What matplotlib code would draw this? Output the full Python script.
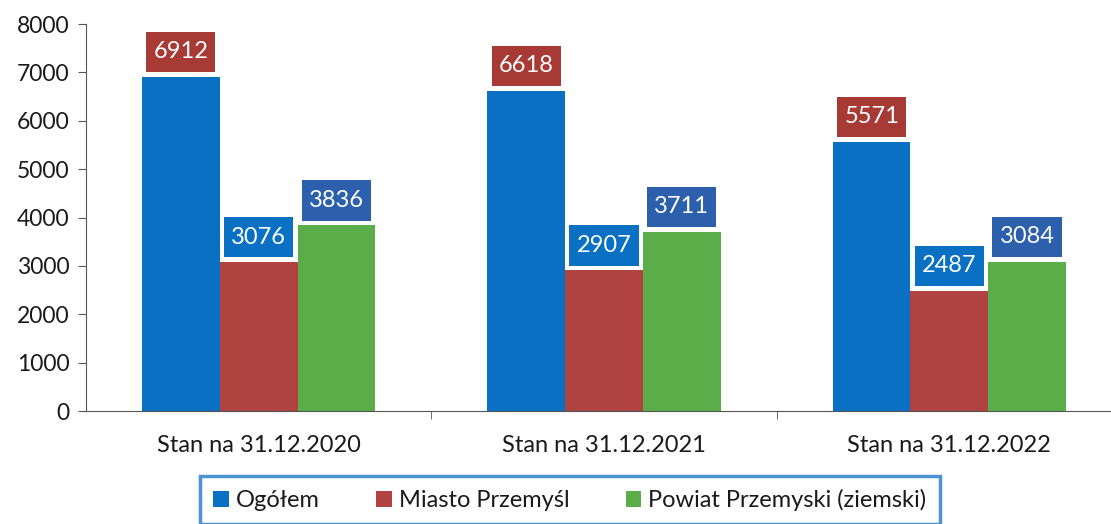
import numpy as np
import matplotlib.pyplot as plt
from matplotlib.patches import Rectangle

plt.rcParams['font.family'] = ['Lato', 'DejaVu Sans']

categories = ["Stan na 31.12.2020", "Stan na 31.12.2021", "Stan na 31.12.2022"]
series_names = ["Ogółem", "Miasto Przemyśl", "Powiat Przemyski (ziemski)"]
ogolem = [6912, 6618, 5571]
miasto = [3076, 2907, 2487]
powiat = [3836, 3711, 3084]
y_ticks = [0, 1000, 2000, 3000, 4000, 5000, 6000, 7000, 8000]

bar_colors = ["#0a70c4", "#b0433f", "#5aad48"]
box_colors = ["#a83a36", "#0a70c4", "#2c5fac"]

fig = plt.figure(figsize=(11.11, 5.24), dpi=100)
ax = fig.add_axes([0.0774, 0.2156, 0.9325, 0.7385])

x = np.arange(len(categories))
w = 0.225
values = [ogolem, miasto, powiat]
for i, vals in enumerate(values):
    xs = x + (i - 1) * w
    ax.bar(xs, vals, width=w, color=bar_colors[i], label=series_names[i], zorder=2)
    for xi, v in zip(xs, vals):
        # label box just above the bar
        bw, bh, gap = 0.2, 830, 100
        ax.add_patch(Rectangle((xi - bw / 2, v + gap), bw, bh, facecolor=box_colors[i],
                               edgecolor='none', zorder=3, clip_on=False))
        ax.text(xi, v + gap + bh / 2, str(v), ha='center', va='center', color='white',
                fontsize=17, zorder=4)

ax.set_xlim(-0.5, 2.5)
ax.set_ylim(0, 8000)
ax.set_yticks(y_ticks)
ax.set_yticklabels([str(t) for t in y_ticks], fontsize=16.5, color='#1a1a1a')
ax.set_xticks(x)
ax.set_xticklabels(categories, fontsize=17, color='#1a1a1a')
ax.tick_params(axis='x', length=0, pad=17)
ax.set_xticks([0.5, 1.5], minor=True)
ax.tick_params(axis='x', which='minor', length=6, direction='out', color='#555555')
ax.tick_params(axis='y', length=6, direction='out', color='#555555', pad=6)

for s in ['top', 'right']:
    ax.spines[s].set_visible(False)
ax.spines['left'].set_color('#555555')
ax.spines['bottom'].set_color('#555555')

leg = fig.legend(loc='center', bbox_to_anchor=(0.513, 0.046), ncol=3, fontsize=17,
                 handlelength=0.65, handleheight=0.65, handletextpad=0.3,
                 columnspacing=2.4, frameon=True, fancybox=False,
                 borderpad=0.55, borderaxespad=0)
leg.get_frame().set_edgecolor('#1f78c8')
leg.get_frame().set_linewidth(2.5)
for t in leg.get_texts():
    t.set_color('#1a1a1a')

plt.savefig('out.png', dpi=100)
